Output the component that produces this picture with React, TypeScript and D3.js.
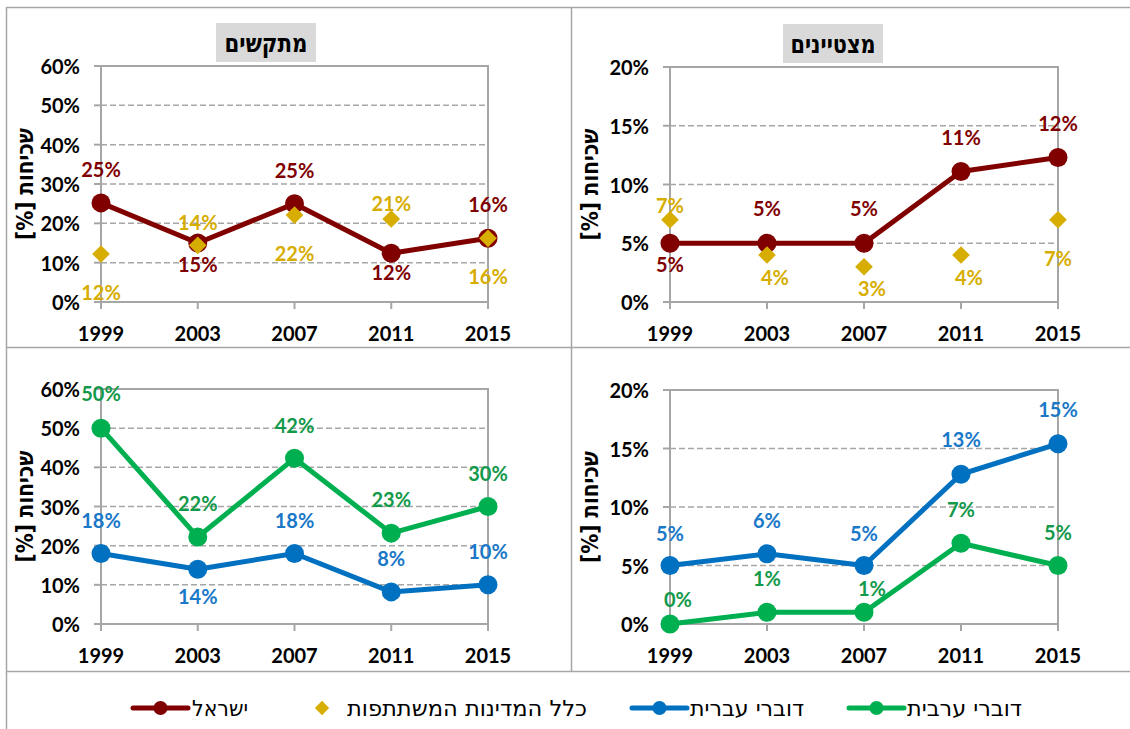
import React from "react";
import * as d3 from "d3";

// categories and tick values
const years = ["1999", "2003", "2007", "2011", "2015"];
const strugglerTicks = [0, 10, 20, 30, 40, 50, 60];
const excellentTicks = [0, 5, 10, 15, 20];

// values (%)
const israelStrugglers = [25.2, 15, 25, 12.4, 16.2];
const oecdStrugglers = [12.2, 14.4, 22.1, 21.1, 16.2];
const israelExcellent = [5, 5, 5, 11.1, 12.3];
const oecdExcellent = [7, 4, 3, 4, 7];
const arabicStrugglers = [50, 22.2, 42.3, 23.2, 30];
const hebrewStrugglers = [18, 14, 18, 8.2, 10];
const hebrewExcellent = [5, 6, 5, 12.8, 15.4];
const arabicExcellent = [0, 1, 1, 6.9, 5];

// texts
const titleStrugglers = "מתקשים";
const titleExcellent = "מצטיינים";
const yAxisTitle = "שכיחות [%]";
const legendNames = ["ישראל", "כלל המדינות המשתתפות", "דוברי עברית", "דוברי ערבית"];

const RED = "#800000";
const GOLD = "#d6ad00";
const BLUE = "#0070c0";
const BLUE_TXT = "#1a78c8";
const GREEN = "#00b050";
const GREEN_TXT = "#13994a";
const GRID = "#a6a6a6";
const FONT = "Lato, 'Liberation Sans', sans-serif";
const HEB = "'DejaVu Sans', 'Liberation Sans', sans-serif";

type Series = {
  values: number[];
  color: string;
  textColor: string;
  kind: "line" | "diamond";
  dy: number[];
  dx?: number[];
};

type PanelProps = {
  x0: number;
  x1: number;
  yTop: number;
  yBottom: number;
  ticks: number[];
  titleX: number;
  series: Series[];
  title?: string;
  titleCx?: number;
  titleW?: number;
};

function Panel(p: PanelProps) {
  const x = d3.scalePoint<string>().domain(years).range([p.x0, p.x1]);
  const y = d3
    .scaleLinear()
    .domain([0, p.ticks[p.ticks.length - 1]])
    .range([p.yBottom, p.yTop]);
  const line = d3
    .line<number>()
    .x((_, i) => x(years[i])!)
    .y((d) => y(d));
  const diamond = d3.symbol().type(d3.symbolDiamond2).size(200);

  return (
    <g>
      {p.title && (
        <g>
          <rect x={p.titleCx! - 50} y={p.yTop - 43} width={100} height={39} fill="#d9d9d9" />
          <text
            x={p.titleCx}
            y={p.yTop - 23}
            textAnchor="middle"
            dominantBaseline="central"
            fontFamily={HEB}
            fontWeight="bold"
            fontSize={25}
            textLength={p.titleW}
            lengthAdjust="spacingAndGlyphs"
          >
            {p.title}
          </text>
        </g>
      )}
      {/* grid */}
      {p.ticks.slice(1, -1).map((t) => (
        <line
          key={t}
          x1={p.x0}
          x2={p.x1}
          y1={y(t)}
          y2={y(t)}
          stroke={GRID}
          strokeWidth={1.5}
          strokeDasharray="6,3"
        />
      ))}
      <rect
        x={p.x0}
        y={p.yTop}
        width={p.x1 - p.x0}
        height={p.yBottom - p.yTop}
        fill="none"
        stroke={GRID}
        strokeWidth={2}
      />
      {/* y ticks */}
      {p.ticks.map((t) => (
        <g key={t}>
          <line x1={p.x0 - 7} x2={p.x0} y1={y(t)} y2={y(t)} stroke={GRID} strokeWidth={2} />
          <text
            x={p.x0 - 21}
            y={y(t)}
            textAnchor="end"
            dominantBaseline="central"
            fontFamily={FONT}
            fontWeight="bold"
            fontSize={20}
          >
            {t + "%"}
          </text>
        </g>
      ))}
      {/* x ticks */}
      {years.map((yr) => (
        <g key={yr}>
          <line x1={x(yr)} x2={x(yr)} y1={p.yBottom} y2={p.yBottom + 7} stroke={GRID} strokeWidth={2} />
          <text
            x={x(yr)}
            y={p.yBottom + 31}
            textAnchor="middle"
            dominantBaseline="central"
            fontFamily={FONT}
            fontWeight="bold"
            fontSize={20}
          >
            {yr}
          </text>
        </g>
      ))}
      <text
        transform={`translate(${p.titleX},${(p.yTop + p.yBottom) / 2}) rotate(-90)`}
        textAnchor="middle"
        dominantBaseline="central"
        direction="rtl"
        fontFamily={HEB}
        fontWeight="bold"
        fontSize={23}
        textLength={112}
        lengthAdjust="spacingAndGlyphs"
      >
        {yAxisTitle}
      </text>
      {/* series */}
      {p.series.map((s, si) => (
        <g key={si}>
          {s.kind === "line" && (
            <path d={line(s.values)!} fill="none" stroke={s.color} strokeWidth={5} strokeLinejoin="round" />
          )}
          {s.values.map((v, i) =>
            s.kind === "line" ? (
              <circle key={i} cx={x(years[i])} cy={y(v)} r={9.5} fill={s.color} />
            ) : (
              <path
                key={i}
                d={diamond()!}
                transform={`translate(${x(years[i])},${y(v)})`}
                fill={s.color}
              />
            )
          )}
        </g>
      ))}
      {p.series.map((s, si) => (
        <g key={"l" + si}>
          {s.values.map((v, i) => (
            <text
              key={i}
              x={x(years[i])! + (s.dx ? s.dx[i] : 0)}
              y={y(v) + s.dy[i]}
              textAnchor="middle"
              dominantBaseline="central"
              fontFamily={FONT}
              fontWeight="bold"
              fontSize={20}
              fill={s.textColor}
            >
              {Math.round(v) + "%"}
            </text>
          ))}
        </g>
      ))}
    </g>
  );
}

export default function App() {
  const border = "#a6a6a6";
  const legendY = 708;
  const diamond = d3.symbol().type(d3.symbolDiamond2).size(130);
  const lineItems = [
    { x: 133, color: RED, text: legendNames[0], tx: 192, w: 56 },
    { x: 632, color: BLUE, text: legendNames[2], tx: 690, w: 114 },
    { x: 849, color: GREEN, text: legendNames[3], tx: 907, w: 115 },
  ];
  return (
    <svg
      width={1130}
      height={729}
      style={{ position: "absolute", left: 0, top: 0, background: "#fff" }}
    >
      <rect x={0} y={0} width={1130} height={729} fill="#fff" />
      {/* frame */}
      <line x1={6.5} x2={6.5} y1={7} y2={729} stroke={border} strokeWidth={1.5} />
      <line x1={6} x2={1130} y1={7.5} y2={7.5} stroke={border} strokeWidth={1.5} />
      <line x1={571.5} x2={571.5} y1={7} y2={672} stroke={border} strokeWidth={1.5} />
      <line x1={6} x2={1130} y1={347.5} y2={347.5} stroke={border} strokeWidth={1.5} />
      <line x1={6} x2={1130} y1={671.5} y2={671.5} stroke={border} strokeWidth={1.5} />

      <Panel
        x0={101}
        x1={488}
        yTop={66}
        yBottom={302}
        ticks={strugglerTicks}
        titleX={25}
        title={titleStrugglers}
        titleCx={266}
        titleW={83}
        series={[
          { values: israelStrugglers, color: RED, textColor: RED, kind: "line", dy: [-34, 21, -34, 19, -34] },
          { values: oecdStrugglers, color: GOLD, textColor: GOLD, kind: "diamond", dy: [38, -23, 38, -16, 38] },
        ]}
      />
      <Panel
        x0={670}
        x1={1058}
        yTop={67}
        yBottom={302}
        ticks={excellentTicks}
        titleX={590}
        title={titleExcellent}
        titleCx={833}
        titleW={85}
        series={[
          { values: israelExcellent, color: RED, textColor: RED, kind: "line", dy: [21, -35, -35, -35, -34] },
          {
            values: oecdExcellent,
            color: GOLD,
            textColor: GOLD,
            kind: "diamond",
            dy: [-15, 22, 21, 22, 38],
            dx: [0, 8, 8, 8, 0],
          },
        ]}
      />
      <Panel
        x0={101}
        x1={488}
        yTop={389}
        yBottom={624}
        ticks={strugglerTicks}
        titleX={25}
        series={[
          { values: hebrewStrugglers, color: BLUE, textColor: BLUE_TXT, kind: "line", dy: [-34, 27, -34, -34, -34] },
          { values: arabicStrugglers, color: GREEN, textColor: GREEN_TXT, kind: "line", dy: [-35, -34, -33, -34, -34] },
        ]}
      />
      <Panel
        x0={670}
        x1={1058}
        yTop={390}
        yBottom={624}
        ticks={excellentTicks}
        titleX={590}
        series={[
          { values: hebrewExcellent, color: BLUE, textColor: BLUE_TXT, kind: "line", dy: [-33, -34, -33, -35, -35] },
          {
            values: arabicExcellent,
            color: GREEN,
            textColor: GREEN_TXT,
            kind: "line",
            dy: [-25, -34, -24, -34, -34],
            dx: [8, 0, 8, 0, 0],
          },
        ]}
      />

      {/* legend */}
      {lineItems.map((it) => (
        <g key={it.text}>
          <line
            x1={it.x}
            x2={it.x + 55}
            y1={legendY}
            y2={legendY}
            stroke={it.color}
            strokeWidth={5}
            strokeLinecap="round"
          />
          <circle cx={it.x + 27.5} cy={legendY} r={7} fill={it.color} />
          <text
            x={it.tx}
            y={legendY}
            dominantBaseline="central"
            fontFamily={HEB}
            fontSize={22}
            fill="#000"
            textLength={it.w}
            lengthAdjust="spacingAndGlyphs"
          >
            {it.text}
          </text>
        </g>
      ))}
      <path d={diamond()!} transform={`translate(322,${legendY})`} fill={GOLD} />
      <text
        x={347}
        y={legendY}
        dominantBaseline="central"
        fontFamily={HEB}
        fontSize={22}
        textLength={240}
        lengthAdjust="spacingAndGlyphs"
      >
        {legendNames[1]}
      </text>
    </svg>
  );
}
